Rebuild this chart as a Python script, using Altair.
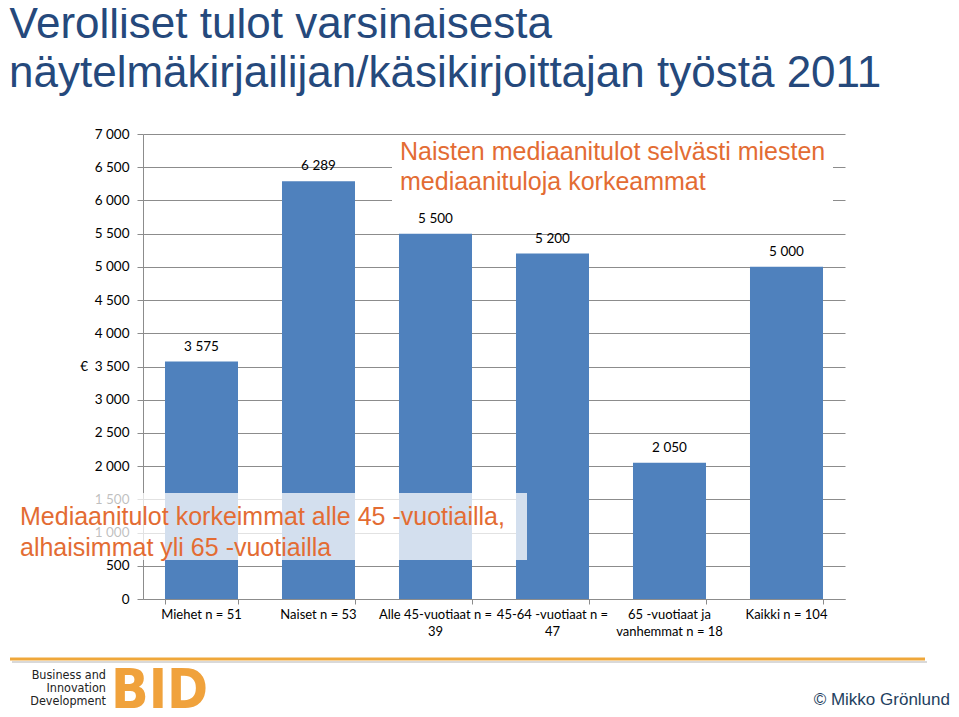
import altair as alt
import pandas as pd

# ---- data ----
categories = ["Miehet n = 51", "Naiset n = 53", "Alle 45-vuotiaat n = 39",
              "45-64 -vuotiaat n = 47", "65 -vuotiaat ja vanhemmat n = 18", "Kaikki n = 104"]
category_display = ["Miehet n = 51", "Naiset n = 53", "Alle 45-vuotiaat n =\n39",
                     "45-64 -vuotiaat n =\n47", "65 -vuotiaat ja\nvanhemmat n = 18", "Kaikki n = 104"]
values = [3575, 6289, 5500, 5200, 2050, 5000]
value_labels = ["3 575", "6 289", "5 500", "5 200", "2 050", "5 000"]
y_ticks = list(range(0, 7001, 500))

title_lines = ["Verolliset tulot varsinaisesta",
               "näytelmäkirjailijan/käsikirjoittajan työstä 2011"]
note_top = ["Naisten mediaanitulot selvästi miesten", "mediaanituloja korkeammat"]
note_bottom = ["Mediaanitulot korkeimmat alle 45 -vuotiailla,", "alhaisimmat yli 65 -vuotiailla"]
logo_small = ["Business and", "Innovation", "Development"]

df = pd.DataFrame({"cat": categories, "disp": category_display,
                   "value": values, "lab": value_labels})

W, H = 702, 465
BAR = "#4F81BD"
ORANGE = "#E36C33"
NAVY = "#25497C"
GRID = "#8C8C8C"
LAB_FONT = "Lato"

xenc = alt.X("cat:N", sort=categories,
             scale=alt.Scale(paddingInner=0.376, paddingOuter=0.188),
             axis=alt.Axis(title=None, labels=False, tickBand="extent", ticks=True,
                           tickSize=5, tickColor=GRID, domainColor=GRID, grid=False))
yenc = alt.Y("value:Q", scale=alt.Scale(domain=[0, 7000], nice=False),
             axis=alt.Axis(title=None, values=y_ticks, grid=True, gridColor=GRID,
                           gridWidth=1, domainColor=GRID, tickColor=GRID, tickSize=6,
                           labelFont=LAB_FONT, labelFontSize=13.5, labelColor="#000000",
                           labelPadding=8, labelOverlap=False, labelFlush=False,
                           labelExpr="replace(format(datum.value, ','), ',', ' ')"))

base = alt.Chart(df)
bars = base.mark_bar(color=BAR).encode(x=xenc, y=yenc)
bar_labels = base.mark_text(dy=-15, baseline="middle", font=LAB_FONT, fontSize=13.5,
                            color="#000000").encode(x=xenc, y=yenc, text="lab:N")
x_labels = base.mark_text(baseline="top", font=LAB_FONT, fontSize=13, lineHeight=17,
                          lineBreak="\n", color="#000000").encode(
    x=xenc, y=alt.value(H + 10), text="disp:N")

one = pd.DataFrame({"k": [0]})

euro = alt.Chart(one).mark_text(font=LAB_FONT, fontSize=13.5, baseline="middle",
                                align="right", text="€").encode(
    x=alt.value(-55), y=alt.value(H / 2))


def text_line(t, x0, y0, size, color, font="Liberation Sans", align="left", weight="normal"):
    return alt.Chart(pd.DataFrame({"t": [t]})).mark_text(
        font=font, fontSize=size, color=color, align=align, baseline="alphabetic",
        fontWeight=weight).encode(x=alt.value(x0), y=alt.value(y0), text="t:N")


title = [text_line(title_lines[0], -134, -96, 44, NAVY),
         text_line(title_lines[1], -134, -47, 44, NAVY)]

top_box = alt.Chart(one).mark_rect(color="white").encode(
    x=alt.value(249), x2=alt.value(690), y=alt.value(3), y2=alt.value(69))
top_note = [text_line(note_top[0], 257, 26, 25, ORANGE),
            text_line(note_top[1], 257, 56, 25, ORANGE)]

bottom_box = alt.Chart(one).mark_rect(color="white", opacity=0.75).encode(
    x=alt.value(-126), x2=alt.value(384), y=alt.value(359), y2=alt.value(426))
bottom_note = [text_line(note_bottom[0], -123, 391, 25, ORANGE),
               text_line(note_bottom[1], -123, 422, 25, ORANGE)]

footer_line = alt.Chart(one).mark_rule(color="#EFA73A", strokeWidth=3).encode(
    x=alt.value(-133), x2=alt.value(782), y=alt.value(525))
footer_shadow = alt.Chart(one).mark_rule(color="#D9D9D9", strokeWidth=2).encode(
    x=alt.value(-131), x2=alt.value(784), y=alt.value(528))

NARROW = "Liberation Sans Narrow, DejaVu Sans Condensed"
logo = [text_line(logo_small[0], -37, 545, 12.5, "#222222", font=NARROW, align="right"),
        text_line(logo_small[1], -37, 558, 12.5, "#222222", font=NARROW, align="right"),
        text_line(logo_small[2], -37, 571, 12.5, "#222222", font=NARROW, align="right"),
        text_line("BID", -32, 574, 55, "#F0A23C", font=NARROW, weight="bold")]

copyright_txt = text_line("© Mikko Grönlund", 807, 571, 17, "#243F60", align="right")

chart = alt.layer(
    bars, bar_labels, x_labels, euro, *title, top_box, *top_note,
    bottom_box, *bottom_note, footer_shadow, footer_line, *logo, copyright_txt
).properties(
    width=W, height=H,
    autosize=alt.AutoSizeParams(type="none"),
    padding={"left": 135, "top": 126, "right": 106, "bottom": 109},
    background="white",
).configure_view(stroke=None)

chart.save("out.html", embed_options={"renderer": "svg", "actions": False})
